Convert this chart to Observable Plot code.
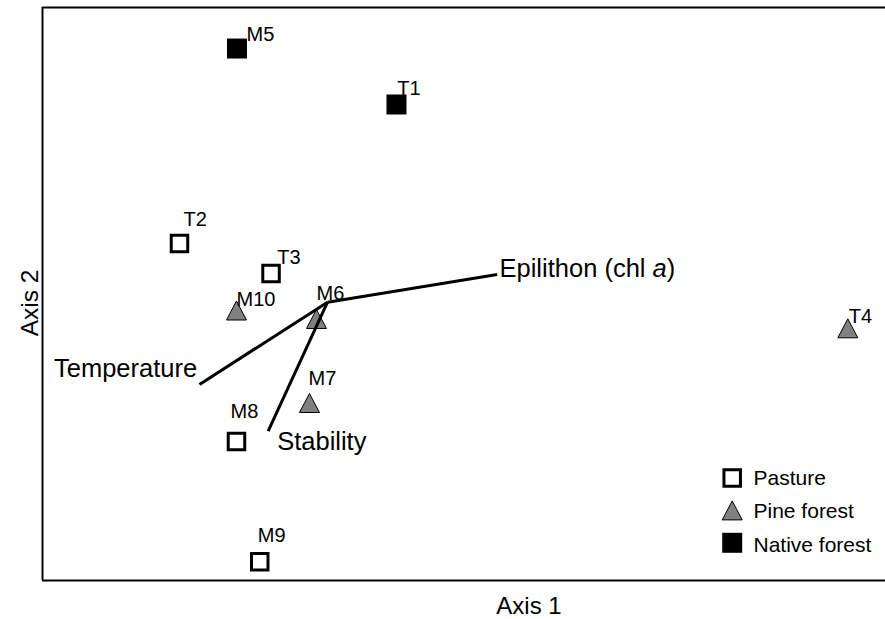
<!DOCTYPE html>
<html>
<head>
<meta charset="utf-8">
<script src="https://cdn.jsdelivr.net/npm/d3@7"></script>
<script src="https://cdn.jsdelivr.net/npm/@observablehq/plot@0.6"></script>
<style>
  html, body { margin: 0; padding: 0; background: white; }
  #chart svg { display: block; }
</style>
</head>
<body>
<div id="chart"></div>
<script>
// ---- Data (ordination scores, arbitrary units) ----
const sites   = ["M5", "T1", "T2", "T3", "M10", "M6", "T4", "M7", "M8", "M9"];
const habitat = ["Native forest", "Native forest", "Pasture", "Pasture", "Pine forest",
                 "Pine forest", "Pine forest", "Pine forest", "Pasture", "Pasture"];
const axis1   = [23.07, 41.99, 16.25, 27.11, 23.01, 32.50, 95.53, 31.67, 23.01, 25.77];
const axis2   = [92.84, 83.07, 58.81, 53.58, 47.12, 45.64, 44.01, 30.98, 24.26, 3.26];

const vectorNames = ["Epilithon (chl a)", "Temperature", "Stability"];
const vectorX     = [53.94, 18.62, 26.77];
const vectorY     = [53.40, 34.21, 26.06];
const vectorOrigin = [33.81, 48.57];

const groups = ["Pasture", "Pine forest", "Native forest"];

// ---- Layout (label offsets in px) ----
const siteLabelOffset = {
  M5: [9.5, -14.4], T1: [0.7, -16.4], T2: [4, -24.4], T3: [6.2, -15.4],
  M10: [0, -11.4], M6: [0, -24.9], T4: [1, -11.5], M7: [-1, -23.9],
  M8: [-6, -29.4], M9: [-2, -26.7]
};
const vectorLabelStyle = {
  "Epilithon (chl a)": {anchor: "start", dx: 2.3, dy: -5.5},
  "Temperature": {anchor: "end", dx: -2.3, dy: -15.5},
  "Stability": {anchor: "start", dx: 9, dy: 11.1}
};

// ---- Build tables ----
const points = sites.map((s, i) => ({site: s, habitat: habitat[i], x: axis1[i], y: axis2[i]}));
const vectors = vectorNames.map((n, i) => ({name: n, x1: vectorOrigin[0], y1: vectorOrigin[1], x2: vectorX[i], y2: vectorY[i]}));

// ---- Custom symbols ----
const openSquare = {draw(ctx) { const s = 8.25; ctx.moveTo(-s, -s); ctx.lineTo(s, -s); ctx.lineTo(s, s); ctx.lineTo(-s, s); ctx.closePath(); }};
const filledSquare = {draw(ctx) { const s = 10; ctx.moveTo(-s, -s); ctx.lineTo(s, -s); ctx.lineTo(s, s); ctx.lineTo(-s, s); ctx.closePath(); }};
const triangle = {draw(ctx) { ctx.moveTo(0, -9.5); ctx.lineTo(10, 9.5); ctx.lineTo(-10, 9.5); ctx.closePath(); }};

const symbolStyle = {
  "Pasture": {symbol: openSquare, fill: "white", stroke: "black", strokeWidth: 3},
  "Pine forest": {symbol: triangle, fill: "#808080", stroke: "black", strokeWidth: 1},
  "Native forest": {symbol: filledSquare, fill: "black", stroke: "none", strokeWidth: 0}
};

const marks = [];

// frame (top, bottom, left)
marks.push(Plot.ruleY([0, 100], {stroke: "black", strokeWidth: 2}));
marks.push(Plot.ruleX([0], {stroke: "black", strokeWidth: 2}));

// points
for (const g of groups) {
  marks.push(Plot.dot(points.filter(d => d.habitat === g), {
    x: "x", y: "y", ...symbolStyle[g], strokeLinejoin: "miter"
  }));
}

// vectors
marks.push(Plot.link(vectors, {x1: "x1", y1: "y1", x2: "x2", y2: "y2", stroke: "black", strokeWidth: 3, strokeLinecap: "butt"}));

// site labels
for (const p of points) {
  const [dx, dy] = siteLabelOffset[p.site];
  marks.push(Plot.text([p], {x: "x", y: "y", text: "site", textAnchor: "start", lineAnchor: "middle", dx, dy, fontSize: 20, fill: "black"}));
}

// vector labels
for (const v of vectors) {
  const st = vectorLabelStyle[v.name];
  marks.push(Plot.text([v], {x: "x2", y: "y2", text: "name", textAnchor: st.anchor, lineAnchor: "middle", dx: st.dx, dy: st.dy, fontSize: 25.5, fill: "black"}));
}

// axis titles
marks.push(Plot.text(["Axis 1"], {frameAnchor: "bottom", text: d => d, textAnchor: "middle", lineAnchor: "middle", dx: 65, dy: 26, fontSize: 24, fill: "black"}));
marks.push(Plot.text(["Axis 2"], {frameAnchor: "left", text: d => d, textAnchor: "middle", lineAnchor: "middle", rotate: -90, dx: -12.5, dy: 9, fontSize: 24.5, fill: "black"}));

// legend
groups.forEach((g, i) => {
  marks.push(Plot.dot([g], {frameAnchor: "bottom-right", dx: -153.3, dy: -102.5 + i * 32.4, ...symbolStyle[g], strokeLinejoin: "miter"}));
  marks.push(Plot.text([g], {frameAnchor: "bottom-right", text: d => d, textAnchor: "start", lineAnchor: "middle", dx: -132, dy: -102.5 + i * 33.7, fontSize: 21, fill: "black"}));
});

const chart = Plot.plot({
  width: 885,
  height: 619,
  marginLeft: 42,
  marginRight: 0,
  marginTop: 7,
  marginBottom: 39,
  x: {domain: [0, 100], axis: null},
  y: {domain: [0, 100], axis: null},
  style: {fontFamily: "'Liberation Sans', Arial, sans-serif", fontSize: "20px", background: "white", color: "black", overflow: "visible"},
  marks
});

// italic "a" in the epilithon label
chart.querySelectorAll("text").forEach(t => {
  if (t.textContent === "Epilithon (chl a)") {
    const target = t.querySelector("tspan") || t;
    target.innerHTML = 'Epilithon (chl <tspan font-style="italic">a</tspan>)';
  }
});

document.getElementById("chart").appendChild(chart);
</script>
</body>
</html>
